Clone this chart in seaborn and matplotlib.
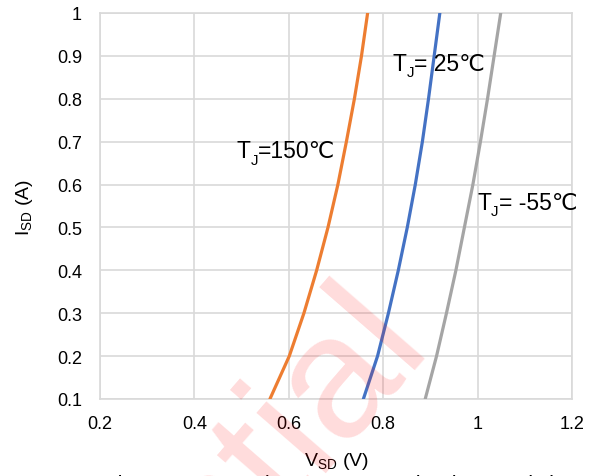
import matplotlib
matplotlib.use("Agg")
import matplotlib.pyplot as plt
import matplotlib.transforms as mtransforms
import seaborn as sns
import pandas as pd

# ---- data ----
current = [0.1, 0.2, 0.3, 0.4, 0.5, 0.6, 0.7, 0.8, 0.9, 1.0]
v_150 = [0.560, 0.601, 0.632, 0.659, 0.683, 0.704, 0.722, 0.739, 0.754, 0.767]
v_25 = [0.758, 0.788, 0.811, 0.832, 0.851, 0.868, 0.883, 0.896, 0.908, 0.920]
v_m55 = [0.889, 0.913, 0.934, 0.954, 0.972, 0.990, 1.006, 1.021, 1.035, 1.049]
series_names = ["150", "25", "-55"]
series_colors = ["#ED7D31", "#4472C4", "#A5A5A5"]
x_ticks = [0.2, 0.4, 0.6, 0.8, 1.0, 1.2]
x_tick_labels = ["0.2", "0.4", "0.6", "0.8", "1", "1.2"]
y_ticks = [0.1, 0.2, 0.3, 0.4, 0.5, 0.6, 0.7, 0.8, 0.9, 1.0]
y_tick_labels = ["0.1", "0.2", "0.3", "0.4", "0.5", "0.6", "0.7", "0.8", "0.9", "1"]
annotations = [
    (0.490, 0.664, "150℃", "="),
    (0.820, 0.867, "25℃", "= "),
    (0.999, 0.543, "-55℃", "= "),
]

sns.set_theme(style="white")
plt.rcParams["font.family"] = ["Liberation Sans", "DejaVu Sans"]
plt.rcParams["mathtext.fontset"] = "custom"
plt.rcParams["mathtext.rm"] = "Liberation Sans"
plt.rcParams["mathtext.it"] = "Liberation Sans:italic"
plt.rcParams["mathtext.bf"] = "Liberation Sans:bold"

rows = []
for name, vs in zip(series_names, [v_150, v_25, v_m55]):
    for v, i in zip(vs, current):
        rows.append({"V": v, "I": i, "T": name})
df = pd.DataFrame(rows)

W, H = 596, 477
fig = plt.figure(figsize=(W / 100, H / 100), dpi=100)
ax = fig.add_axes([100 / W, 1 - 400 / H, (572 - 100) / W, (400 - 14) / H])

sns.lineplot(data=df, x="V", y="I", hue="T", palette=dict(zip(series_names, series_colors)),
             sort=False, estimator=None, legend=False, linewidth=2.3, ax=ax, zorder=3)

ax.set_xlim(0.2, 1.2)
ax.set_ylim(0.1, 1.0)
ax.set_xticks(x_ticks)
ax.set_xticklabels(x_tick_labels)
ax.set_yticks(y_ticks)
ax.set_yticklabels(y_tick_labels)
ax.tick_params(axis="both", length=0, labelsize=13, colors="black")
ax.tick_params(axis="x", pad=11.5)
ax.tick_params(axis="y", pad=13)
ax.grid(True, color="#d9d9d9", linewidth=1.2)
for s in ax.spines.values():
    s.set_color("#d9d9d9")
    s.set_linewidth(1.2)

ax.set_xlabel(r"V$_\mathregular{SD}$ (V)", fontsize=14, color="black", labelpad=13)
ax.set_ylabel(r"I$_\mathregular{SD}$ (A)", fontsize=14, color="black", labelpad=16)

# annotations built piecewise so that ℃ can fall back to DejaVu Sans
renderer = fig.canvas.get_renderer()
ann_fs = 16.5


def rich_text(x, y, parts):
    dx = 0.0
    for s, sub in parts:
        size = ann_fs * 0.66 if sub else ann_fs
        dy = -ann_fs * 0.28 if sub else 0.0
        tr = mtransforms.offset_copy(ax.transData, fig=fig, x=dx, y=dy, units="points")
        t = ax.text(x, y, s, fontsize=size, va="baseline", ha="left", transform=tr,
                    zorder=4, color="black")
        dx += t.get_window_extent(renderer).width * 72.0 / fig.dpi


for x, y, val, eq in annotations:
    rich_text(x, y, [("T", False), ("J", True), (eq + val, False)])

# caption (mostly cut off at the bottom, as in the reference)
fig.text(105 / W, 1 - 490 / H, "Figure 9: Forward Current vs. Body Characteristics",
         fontsize=15, ha="left", va="baseline", color="black")

# watermark
fig.text(430 / W, 1 - 342 / H, "Confidential", fontsize=126, color="#ff0000", alpha=0.14,
         rotation=49, rotation_mode="anchor", ha="right", va="baseline", zorder=10)

fig.savefig("out.png", dpi=100)
